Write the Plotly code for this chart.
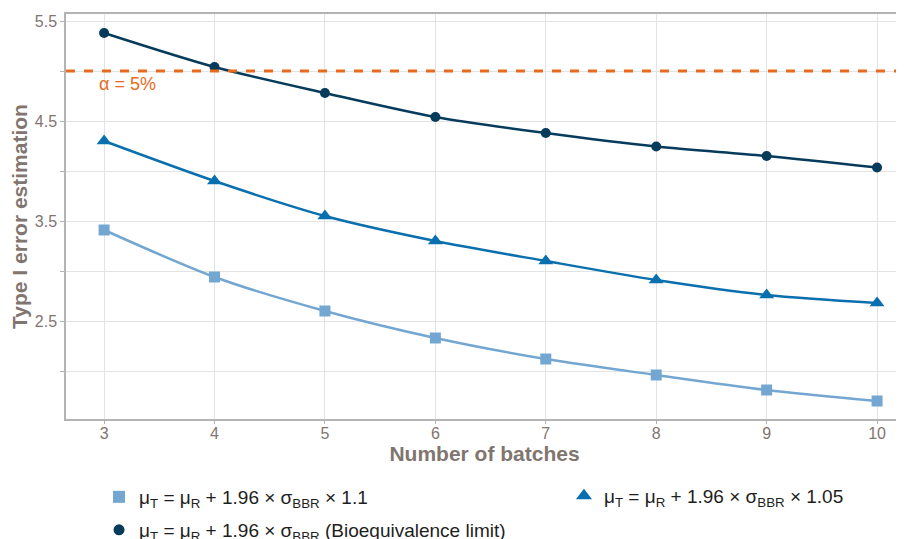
import plotly.graph_objects as go

batches = [3, 4, 5, 6, 7, 8, 9, 10]
err_110 = [3.41, 2.94, 2.60, 2.33, 2.12, 1.96, 1.81, 1.70]
err_105 = [4.30, 3.90, 3.55, 3.30, 3.10, 2.91, 2.76, 2.68]
err_100 = [5.38, 5.04, 4.78, 4.54, 4.38, 4.245, 4.15, 4.035]
alpha_level = 5.0

names = [
    "μ<sub>T</sub> = μ<sub>R</sub> + 1.96 × σ<sub>BBR</sub> × 1.1",
    "μ<sub>T</sub> = μ<sub>R</sub> + 1.96 × σ<sub>BBR</sub> × 1.05",
    "μ<sub>T</sub> = μ<sub>R</sub> + 1.96 × σ<sub>BBR</sub> (Bioequivalence limit)",
]
colors = ["#73a7d1", "#0a6fae", "#063b5c"]
symbols = ["square", "triangle-up", "circle"]
msizes = [11, 13, 10]
legend_ids = ["legend", "legend2", "legend3"]
series = [err_110, err_105, err_100]

fig = go.Figure()
for name, col, sym, ms, ys in zip(names, colors, symbols, msizes, series):
    fig.add_trace(go.Scatter(
        x=batches, y=ys, name=name, mode="lines+markers", showlegend=False,
        line=dict(color=col, width=2.5, shape="spline", smoothing=0.8),
        marker=dict(symbol=sym, size=ms, color=col),
    ))
# legend-only entries (marker glyph only, as in the reference)
for name, col, sym, ms, lg in zip(names, colors, symbols, msizes, legend_ids):
    fig.add_trace(go.Scatter(
        x=[None], y=[None], name=name, mode="markers", legend=lg,
        marker=dict(symbol=sym, size=ms + 1, color=col),
    ))

fig.add_hline(y=alpha_level, line=dict(color="#ea6a1d", width=3, dash="dash"))
fig.add_annotation(x=3, y=alpha_level, text="α = 5%", showarrow=False,
                   xanchor="left", yanchor="top", yshift=-1, xshift=-7,
                   font=dict(family="Liberation Sans, Arial", size=18, color="#ea6a1d"))

axis_col = "#b3b3b3"
tick_font = dict(family="Liberation Sans, Arial", size=16, color="#7f7571")
title_font = dict(family="Liberation Sans, Arial", size=21, color="#80756f")
legend_font = dict(family="Liberation Sans, Arial", size=19, color="#1e1e1e")


def legend_box(x, y):
    return dict(orientation="h", xref="container", x=x, xanchor="left",
                yref="container", y=y, yanchor="top",
                font=legend_font, itemwidth=30, bgcolor="rgba(0,0,0,0)")


fig.update_layout(
    width=896, height=531,
    margin=dict(l=58, r=1, t=6, b=120),
    paper_bgcolor="white", plot_bgcolor="white",
    showlegend=True,
    legend=legend_box(0.1016, 0.1149),
    legend2=legend_box(0.6205, 0.1168),
    legend3=legend_box(0.1016, 0.0527),
    xaxis=dict(range=[2.655, 10.235], tickvals=batches, showgrid=True,
               gridcolor="#e3e3e3", gridwidth=1, showline=True, linecolor=axis_col,
               linewidth=1.5, mirror=True, ticks="outside", ticklen=3, tickcolor=axis_col,
               tickfont=tick_font, zeroline=False, ticklabelstandoff=-4,
               title=dict(text="<b>Number of batches</b>", font=title_font, standoff=3)),
    yaxis=dict(range=[1.52, 5.57], tickvals=[2.5, 3.5, 4.5, 5.5],
               ticktext=["2.5", "3.5", "4.5", "5.5"], showgrid=True,
               gridcolor="#e3e3e3", gridwidth=1, showline=True, linecolor=axis_col,
               linewidth=1.5, ticks="outside", ticklen=4, tickcolor=axis_col,
               tickfont=tick_font, zeroline=False,
               minor=dict(tickvals=[2.0, 3.0, 4.0, 5.0], showgrid=True,
                          gridcolor="#e3e3e3", ticks="outside", ticklen=4, tickcolor=axis_col),
               title=dict(text="<b>Type I error estimation</b>", font=title_font, standoff=2)),
)

fig.write_html("out.html")
